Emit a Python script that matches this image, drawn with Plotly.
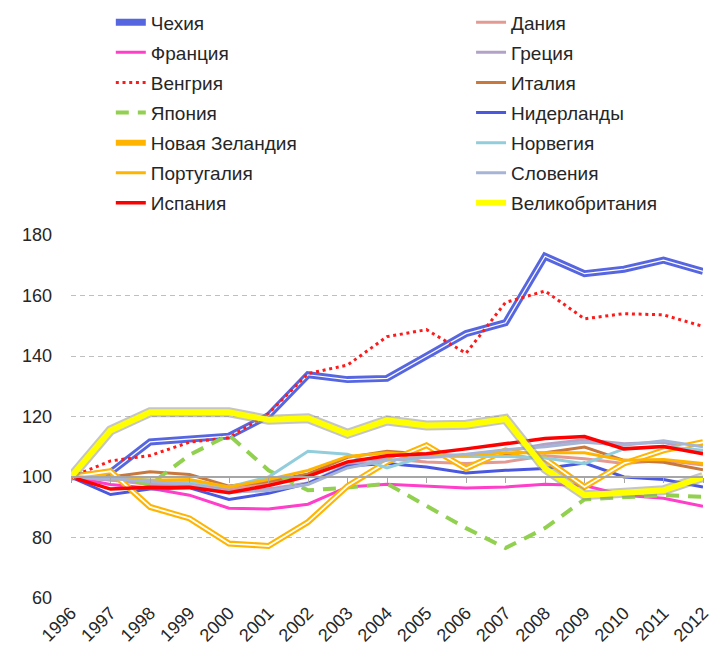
import plotly.graph_objects as go

years = list(range(1996, 2013))

czech = [100, 101.5, 111.6, 112.5, 113.5, 120.3, 133.8, 132.2, 132.6, 140.0, 147.4, 151.0, 173.0, 167.2, 168.7, 171.7, 168.0]
denmark = [100, 99.0, 97.5, 98.0, 96.0, 98.0, 100.5, 104.5, 106.0, 105.0, 104.5, 105.0, 107.0, 106.0, 104.5, 105.5, 104.0]
france = [100, 97.5, 96.3, 94.0, 89.7, 89.4, 91.0, 96.7, 97.6, 96.9, 96.4, 96.7, 97.6, 97.2, 94.0, 93.0, 90.3]
greece = [100, 99.0, 98.0, 97.5, 95.5, 96.0, 98.0, 104.0, 106.0, 106.5, 107.0, 108.5, 110.8, 112.3, 111.0, 111.5, 108.2]
hungary = [100, 105.3, 107.1, 111.5, 113.0, 121.0, 134.2, 137.0, 146.4, 148.7, 140.9, 157.7, 161.5, 152.3, 154.0, 153.6, 149.8]
italy = [100, 100.0, 101.7, 100.8, 97.0, 98.5, 101.0, 106.5, 108.5, 107.5, 107.0, 107.5, 108.0, 109.9, 105.5, 104.9, 102.4]
japan = [100, 100.5, 97.5, 107.3, 113.9, 102.2, 95.6, 96.5, 97.8, 90.6, 83.1, 76.5, 83.1, 92.6, 93.3, 94.0, 93.4]
netherlands = [100, 94.2, 96.0, 96.4, 92.6, 94.6, 97.9, 103.6, 104.5, 103.3, 101.3, 102.2, 102.8, 104.6, 100.0, 99.2, 96.7]
new_zealand = [100, 101.9, 90.1, 86.3, 78.0, 77.2, 85.1, 97.0, 105.0, 110.5, 102.8, 108.8, 106.0, 96.7, 104.5, 108.8, 111.5]
norway = [100, 100.0, 99.0, 98.5, 96.7, 100.0, 108.5, 107.5, 103.0, 107.0, 106.8, 106.8, 106.3, 104.4, 109.3, 110.1, 108.8]
portugal = [100, 99.5, 98.9, 99.2, 96.7, 99.2, 102.2, 106.8, 108.0, 107.0, 107.2, 108.0, 108.0, 108.0, 105.5, 105.8, 104.5]
slovenia = [100, 99.5, 98.5, 97.5, 95.0, 95.5, 97.5, 103.0, 105.5, 106.5, 107.5, 109.0, 110.0, 111.5, 110.5, 112.0, 110.0]
spain = [100, 96.0, 96.6, 96.6, 94.8, 97.2, 100.2, 105.0, 107.0, 107.7, 109.3, 111.0, 112.7, 113.4, 109.3, 110.1, 107.7]
uk = [100, 115.4, 121.4, 121.2, 121.4, 118.9, 119.4, 114.3, 118.7, 117.0, 117.3, 119.2, 102.8, 94.0, 95.0, 95.6, 100.0]

y_ticks = [60, 80, 100, 120, 140, 160, 180]

FONT = "Liberation Sans, Arial, sans-serif"
fig = go.Figure()

def add(name, y, color, width, leg, dash=None, show=True, group=None):
    fig.add_trace(go.Scatter(
        x=years, y=y, mode="lines", name=name, showlegend=show,
        legend=leg, legendgroup=group or name,
        line=dict(color=color, width=width, dash=dash), hoverinfo="skip"))

# drawing order follows series order (later on top)
add("Чехия", czech, "#5666E0", 7, "legend")
add("Чехия ", czech, "#FFFFFF", 1.2, "legend", show=False, group="Чехия")
add("Дания", denmark, "#E39A93", 3, "legend2")
add("Франция", france, "#FF3EC9", 3, "legend")
add("Греция", greece, "#B3A2C8", 3, "legend2")
add("Венгрия", hungary, "#FF1A1A", 3, "legend", dash="3px,3.7px")
add("Италия", italy, "#C8783C", 3, "legend2")
add("Япония", japan, "#92D050", 4, "legend", dash="13px,9px")
add("Нидерланды", netherlands, "#4A58E0", 3, "legend2")
add("Новая Зеландия", new_zealand, "#FFB400", 6, "legend")
add("Новая Зеландия ", new_zealand, "#FFFFFF", 1.8, "legend", show=False, group="Новая Зеландия")
add("Норвегия", norway, "#92CDDC", 3, "legend2")
add("Португалия", portugal, "#FFB400", 3, "legend")
add("Словения", slovenia, "#A6B4D6", 3, "legend2")
add("Испания", spain, "#FF0000", 3.5, "legend")
add("Великобритания ", uk, "rgba(150,150,150,0.55)", 10, "legend2", show=False, group="Великобритания")
add("Великобритания", uk, "#FFFF00", 6, "legend2")

leg_common = dict(
    orientation="v", yanchor="top", y=1.638, xanchor="left",
    font=dict(family=FONT, size=19, color="#262626"),
    traceorder="grouped", tracegroupgap=2.4, bgcolor="rgba(0,0,0,0)",
)

fig.update_layout(
    width=716, height=657,
    margin=dict(l=71, r=4, t=234, b=59),
    plot_bgcolor="white", paper_bgcolor="white",
    font=dict(family=FONT, size=18, color="#404040"),
    showlegend=True,
    legend=dict(x=0.063, **leg_common),
    legend2=dict(x=0.633, **leg_common),
    xaxis=dict(
        range=[1996, 2012], tickmode="array", tickvals=years,
        ticktext=[str(v) for v in years], tickangle=-45,
        showgrid=False, zeroline=False, showline=False, ticks="",
        ticklabeloverflow="allow",
        tickfont=dict(family=FONT, size=18, color="#262626"),
    ),
    xaxis2=dict(
        overlaying="x", anchor="free", position=1/3,
        range=[1996, 2012], tickmode="array", tickvals=years,
        showticklabels=False, showgrid=False, zeroline=False,
        showline=True, linecolor="#A6A6A6", linewidth=1.5,
        ticks="outside", ticklen=5, tickcolor="#A6A6A6", tickwidth=1,
    ),
    yaxis=dict(
        range=[60, 180], tickmode="array", tickvals=y_ticks,
        showgrid=True, gridcolor="#BFBFBF", griddash="5px,4px", gridwidth=1,
        zeroline=False, showline=False, ticks="", ticklabelstandoff=18,
        tickfont=dict(family=FONT, size=18, color="#262626"),
    ),
)
fig.add_trace(go.Scatter(x=[1996], y=[None], xaxis="x2", showlegend=False, hoverinfo="skip"))

fig.write_html("out.html", config={"displayModeBar": False},
               post_script="document.body.style.margin='0';")
